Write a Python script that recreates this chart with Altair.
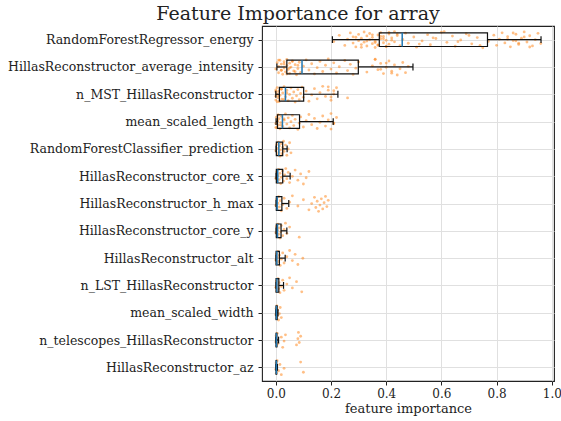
import altair as alt
import pandas as pd

# Features, top to bottom
features = [
    "RandomForestRegressor_energy",
    "HillasReconstructor_average_intensity",
    "n_MST_HillasReconstructor",
    "mean_scaled_length",
    "RandomForestClassifier_prediction",
    "HillasReconstructor_core_x",
    "HillasReconstructor_h_max",
    "HillasReconstructor_core_y",
    "HillasReconstructor_alt",
    "n_LST_HillasReconstructor",
    "mean_scaled_width",
    "n_telescopes_HillasReconstructor",
    "HillasReconstructor_az",
]

# Box statistics per feature
whisker_lo = [0.205, 0.004, 0.000, 0.001, 0.001, 0.001, 0.001, 0.001, 0.001, 0.001, 0.000, 0.000, 0.000]
q1 = [0.375, 0.040, 0.013, 0.006, 0.002, 0.002, 0.002, 0.002, 0.001, 0.001, 0.001, 0.001, 0.001]
median = [0.458, 0.095, 0.035, 0.024, 0.011, 0.007, 0.005, 0.006, 0.004, 0.004, 0.002, 0.002, 0.002]
q3 = [0.767, 0.299, 0.101, 0.086, 0.025, 0.025, 0.022, 0.019, 0.013, 0.011, 0.005, 0.004, 0.003]
whisker_hi = [0.961, 0.497, 0.225, 0.208, 0.041, 0.052, 0.047, 0.040, 0.034, 0.028, 0.008, 0.010, 0.006]

# Individual importances per feature
pts_energy = [0.21, 0.23, 0.25, 0.26, 0.27, 0.28, 0.28, 0.29, 0.30, 0.30, 0.31, 0.31, 0.32,
              0.32, 0.33, 0.33, 0.34, 0.34, 0.35, 0.35, 0.36, 0.36, 0.37, 0.37, 0.38, 0.38,
              0.39, 0.39, 0.40, 0.40, 0.41, 0.41, 0.42, 0.43, 0.43, 0.44, 0.45, 0.46, 0.47,
              0.48, 0.50, 0.51, 0.53, 0.55, 0.56, 0.58, 0.60, 0.62, 0.64, 0.65, 0.67, 0.69,
              0.71, 0.73, 0.75, 0.77, 0.79, 0.80, 0.81, 0.82, 0.83, 0.84, 0.85, 0.86, 0.87,
              0.88, 0.89, 0.90, 0.91, 0.92, 0.93, 0.94, 0.95, 0.96,
              0.29, 0.31, 0.33, 0.35, 0.37, 0.39, 0.41, 0.36, 0.38, 0.40, 0.42, 0.44,
              0.52, 0.57, 0.61, 0.66, 0.70, 0.74, 0.84, 0.86, 0.88, 0.90, 0.92, 0.87]
pts_intensity = [0.00, 0.005, 0.01, 0.01, 0.015, 0.02, 0.02, 0.025, 0.03, 0.03, 0.035, 0.04,
                 0.04, 0.045, 0.05, 0.05, 0.055, 0.06, 0.065, 0.07, 0.075, 0.08, 0.085, 0.09,
                 0.10, 0.11, 0.12, 0.13, 0.14, 0.15, 0.16, 0.17, 0.18, 0.19, 0.20, 0.21, 0.22,
                 0.23, 0.25, 0.26, 0.27, 0.28, 0.29, 0.30, 0.33, 0.35, 0.36, 0.37, 0.38, 0.39,
                 0.40, 0.41, 0.42, 0.43, 0.44, 0.45, 0.46, 0.47, 0.48,
                 0.01, 0.02, 0.03, 0.04, 0.05, 0.06, 0.07, 0.08, 0.36, 0.38, 0.40, 0.42]
pts_n_mst = [0.0, 0.0, 0.0, 0.003, 0.005, 0.008, 0.01, 0.012, 0.015, 0.02, 0.022, 0.025, 0.03,
             0.035, 0.04, 0.045, 0.05, 0.055, 0.06, 0.065, 0.07, 0.075, 0.08, 0.085, 0.09,
             0.095, 0.10, 0.11, 0.12, 0.13, 0.14, 0.15, 0.16, 0.17, 0.18, 0.19, 0.20, 0.21,
             0.22, 0.26, 0.0, 0.005, 0.01, 0.02, 0.03, 0.04, 0.19, 0.20, 0.21]
pts_length = [0.0, 0.002, 0.004, 0.006, 0.008, 0.01, 0.012, 0.015, 0.018, 0.02, 0.025, 0.03,
              0.035, 0.04, 0.045, 0.05, 0.055, 0.06, 0.065, 0.07, 0.08, 0.085, 0.09, 0.10,
              0.11, 0.12, 0.13, 0.14, 0.15, 0.16, 0.17, 0.18, 0.19, 0.20, 0.21, 0.22,
              0.0, 0.005, 0.01, 0.02, 0.03, 0.2, 0.21]
pts_classifier = [0.0, 0.003, 0.005, 0.007, 0.009, 0.011, 0.013, 0.015, 0.017, 0.02, 0.022,
                  0.025, 0.028, 0.03, 0.035, 0.04, 0.045, 0.05, 0.055]
pts_core_x = [0.0, 0.003, 0.005, 0.008, 0.01, 0.012, 0.015, 0.018, 0.02, 0.024, 0.028, 0.032,
              0.036, 0.04, 0.045, 0.05, 0.06, 0.07, 0.08, 0.09, 0.10, 0.11, 0.12]
pts_h_max = [0.0, 0.003, 0.005, 0.008, 0.01, 0.013, 0.016, 0.02, 0.025, 0.03, 0.04, 0.05, 0.06,
             0.08, 0.10, 0.12, 0.13, 0.14, 0.145, 0.15, 0.155, 0.16, 0.165, 0.17, 0.175, 0.18,
             0.185, 0.19]
pts_core_y = [0.0, 0.002, 0.004, 0.006, 0.008, 0.01, 0.012, 0.015, 0.018, 0.02, 0.025, 0.03,
              0.035, 0.04, 0.05, 0.085]
pts_alt = [0.0, 0.002, 0.004, 0.006, 0.008, 0.01, 0.013, 0.016, 0.02, 0.025, 0.03, 0.04, 0.05,
           0.06, 0.07, 0.08, 0.098]
pts_n_lst = [0.0, 0.002, 0.004, 0.006, 0.008, 0.01, 0.012, 0.015, 0.02, 0.025, 0.03, 0.04,
             0.05, 0.06, 0.075, 0.094]
pts_width = [0.0, 0.001, 0.002, 0.003, 0.004, 0.005, 0.007, 0.01, 0.013, 0.016, 0.02]
pts_n_tel = [0.0, 0.001, 0.002, 0.003, 0.005, 0.008, 0.02, 0.025, 0.03, 0.035, 0.075, 0.08,
             0.082, 0.085, 0.09]
pts_az = [0.0, 0.001, 0.002, 0.003, 0.005, 0.01, 0.015, 0.02, 0.03, 0.09, 0.10]

point_lists = [pts_energy, pts_intensity, pts_n_mst, pts_length, pts_classifier, pts_core_x,
               pts_h_max, pts_core_y, pts_alt, pts_n_lst, pts_width, pts_n_tel, pts_az]

points = pd.DataFrame(
    [{"row": i + 1, "value": v} for i, vals in enumerate(point_lists) for v in vals]
)
boxes = pd.DataFrame({
    "row": list(range(1, len(features) + 1)),
    "wlo": whisker_lo, "q1": q1, "med": median, "q3": q3, "whi": whisker_hi,
})

FONT = "DejaVu Serif"
label_expr = "[" + ", ".join(f"'{f}'" for f in features) + "][datum.value - 1]"

x_scale = alt.Scale(domain=[-0.05, 1.008], nice=False, zero=False)
y_scale = alt.Scale(domain=[0.5, len(features) + 0.5], reverse=True, nice=False, zero=False)

x_axis = alt.Axis(values=[0, 0.2, 0.4, 0.6, 0.8, 1.0], format=".1f", title="feature importance",
                  labelFontSize=12, titleFontSize=13, titleFontWeight="normal",
                  labelFont=FONT, titleFont=FONT, labelColor="#222", titleColor="#222",
                  tickSize=4, tickColor="#222", domain=False, labelPadding=3, titlePadding=3,
                  grid=True, gridColor="#e0e0e0", gridWidth=1)
y_axis = alt.Axis(values=list(range(1, len(features) + 1)), labelExpr=label_expr, title=None,
                  labelFontSize=12.5, labelFont=FONT, labelColor="#222", tickSize=4,
                  tickColor="#222", domain=False, labelPadding=5, labelLimit=400,
                  grid=True, gridColor="#e0e0e0", gridWidth=1)

# Jittered individual values (deterministic golden-ratio spread within each row)
dots = alt.Chart(points).transform_window(
    idx="row_number()", groupby=["row"]
).transform_calculate(
    yj="datum.row + ((datum.idx * 0.618034) % 1 - 0.5) * 0.6"
).mark_circle(size=8, color="#ff7f0e", opacity=0.5).encode(
    x=alt.X("value:Q", scale=x_scale, axis=x_axis),
    y=alt.Y("yj:Q", scale=y_scale, axis=y_axis),
)

base = alt.Chart(boxes).transform_calculate(
    lo="datum.row - 0.25", hi="datum.row + 0.25",
    clo="datum.row - 0.125", chi="datum.row + 0.125",
)

LINE = dict(color="#111", strokeWidth=1.2)

box = base.mark_rect(fillOpacity=0, stroke="#111", strokeWidth=1.2).encode(
    x=alt.X("q1:Q", scale=x_scale, axis=x_axis), x2="q3:Q",
    y=alt.Y("lo:Q", scale=y_scale, axis=y_axis), y2="hi:Q",
)
whisk_l = base.mark_rule(**LINE).encode(
    x=alt.X("wlo:Q", scale=x_scale, axis=x_axis), x2="q1:Q",
    y=alt.Y("row:Q", scale=y_scale, axis=y_axis),
)
whisk_r = base.mark_rule(**LINE).encode(
    x=alt.X("q3:Q", scale=x_scale, axis=x_axis), x2="whi:Q",
    y=alt.Y("row:Q", scale=y_scale, axis=y_axis),
)
cap_l = base.mark_rule(**LINE).encode(
    x=alt.X("wlo:Q", scale=x_scale, axis=x_axis),
    y=alt.Y("clo:Q", scale=y_scale, axis=y_axis), y2="chi:Q",
)
cap_r = base.mark_rule(**LINE).encode(
    x=alt.X("whi:Q", scale=x_scale, axis=x_axis),
    y=alt.Y("clo:Q", scale=y_scale, axis=y_axis), y2="chi:Q",
)
med = base.mark_rule(color="#1f77b4", strokeWidth=1.5).encode(
    x=alt.X("med:Q", scale=x_scale, axis=x_axis),
    y=alt.Y("lo:Q", scale=y_scale, axis=y_axis), y2="hi:Q",
)

chart = alt.layer(dots, whisk_l, whisk_r, cap_l, cap_r, box, med).properties(
    width=292,
    height=355,
    autosize=alt.AutoSizeParams(type="none"),
    padding={"left": 262, "top": 26, "right": 7, "bottom": 40},
    background="white",
    title=alt.TitleParams("Feature Importance for array", font=FONT, fontSize=19,
                          fontWeight="normal", color="#222", anchor="middle",
                          dx=-110, offset=2),
).configure_view(stroke="#222", strokeWidth=1.1)

chart.save("out.html", embed_options={"renderer": "svg", "actions": False})
